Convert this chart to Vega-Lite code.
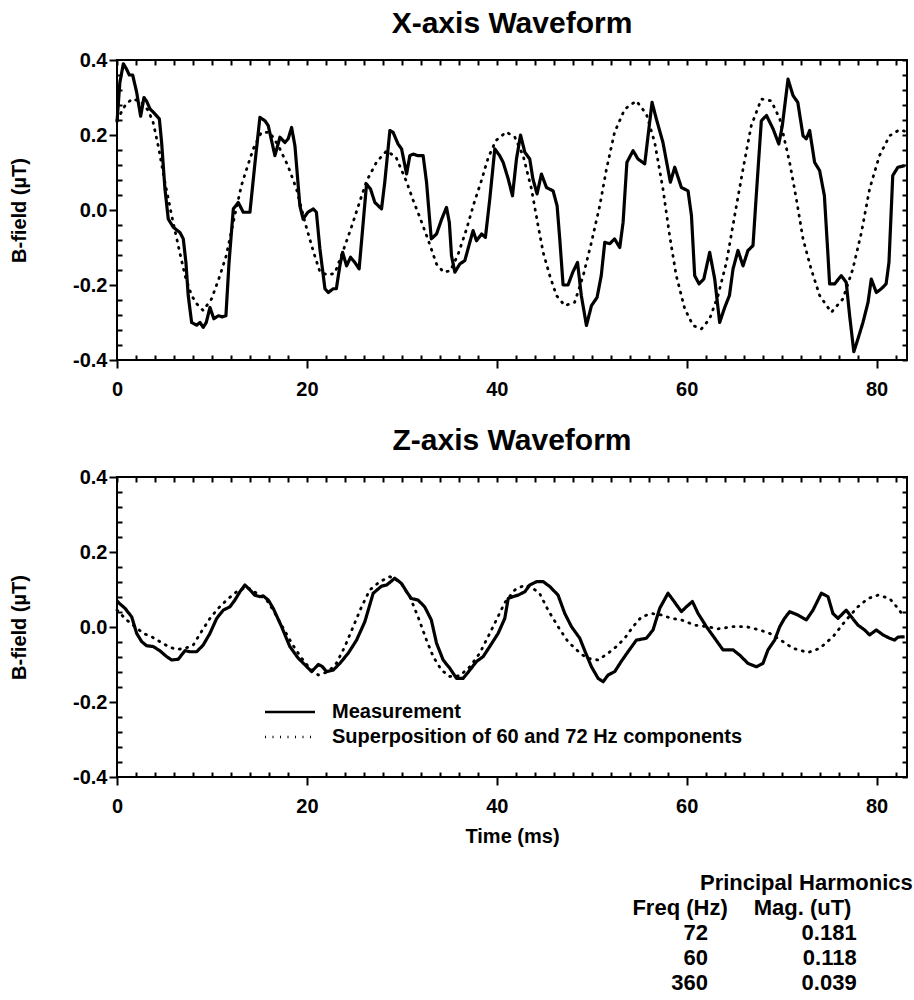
{
  "$schema": "https://vega.github.io/schema/vega-lite/v6.json",
  "background": "white",
  "autosize": {"type": "pad"},
  "padding": {"left": 8, "top": 8, "right": 0, "bottom": 0},
  "spacing": 117,
  "bounds": "flush",
  "config": {
    "font": "Liberation Sans",
    "view": {"stroke": "black", "strokeWidth": 2},
    "axis": {
      "labelFont": "Liberation Sans", "labelFontSize": 20, "labelFontWeight": "bold", "labelColor": "black",
      "titleFont": "Liberation Sans", "titleFontSize": 20, "titleFontWeight": "bold", "titleColor": "black",
      "tickColor": "black", "tickWidth": 2, "domain": false, "grid": false, "labelOverlap": false, "labelFlush": false, "labelBound": false
    },
    "title": {"font": "Liberation Sans", "fontSize": 30, "fontWeight": "bold", "color": "black", "offset": 11},
    "text": {"font": "Liberation Sans", "fontSize": 22, "fontWeight": "bold", "color": "black"}
  },
  "resolve": {"scale": {"strokeDash": "independent"}, "legend": {"strokeDash": "independent"}},
  "datasets": {
    "xm": [
      {"t":0.0,"v":0.234},{"t":0.3,"v":0.34},{"t":0.67,"v":0.39},{"t":1.0,"v":0.376},{"t":1.3,"v":0.36},{"t":1.65,"v":0.36},{"t":2.07,"v":0.314},{"t":2.49,"v":0.25},{"t":2.84,"v":0.30},{"t":3.12,"v":0.29},{"t":3.47,"v":0.27},{"t":4.0,"v":0.256},{"t":4.46,"v":0.243},{"t":4.7,"v":0.18},{"t":5.05,"v":0.056},{"t":5.4,"v":-0.024},{"t":5.93,"v":-0.046},{"t":6.63,"v":-0.06},{"t":6.98,"v":-0.077},{"t":7.26,"v":-0.14},{"t":7.5,"v":-0.228},{"t":7.86,"v":-0.30},{"t":8.39,"v":-0.307},{"t":8.74,"v":-0.30},{"t":9.08,"v":-0.313},{"t":9.4,"v":-0.30},{"t":9.79,"v":-0.26},{"t":10.2,"v":-0.29},{"t":10.67,"v":-0.282},{"t":11.1,"v":-0.285},{"t":11.47,"v":-0.282},{"t":11.8,"v":-0.14},{"t":12.25,"v":0.003},{"t":12.77,"v":0.02},{"t":13.3,"v":-0.006},{"t":14.0,"v":-0.006},{"t":14.5,"v":0.118},{"t":15.05,"v":0.247},{"t":15.58,"v":0.238},{"t":15.93,"v":0.225},{"t":16.63,"v":0.145},{"t":17.16,"v":0.194},{"t":17.68,"v":0.18},{"t":18.03,"v":0.19},{"t":18.39,"v":0.22},{"t":18.74,"v":0.171},{"t":19.26,"v":0.011},{"t":19.6,"v":-0.024},{"t":20.1,"v":-0.006},{"t":20.67,"v":0.003},{"t":21.0,"v":-0.006},{"t":21.37,"v":-0.104},{"t":21.9,"v":-0.21},{"t":22.25,"v":-0.22},{"t":22.77,"v":-0.21},{"t":23.1,"v":-0.21},{"t":23.47,"v":-0.149},{"t":23.76,"v":-0.113},{"t":24.18,"v":-0.149},{"t":24.6,"v":-0.126},{"t":25.05,"v":-0.14},{"t":25.5,"v":-0.157},{"t":25.93,"v":-0.033},{"t":26.28,"v":0.069},{"t":26.7,"v":0.056},{"t":27.16,"v":0.02},{"t":27.86,"v":0.003},{"t":28.2,"v":0.074},{"t":28.74,"v":0.212},{"t":29.08,"v":0.207},{"t":29.6,"v":0.176},{"t":29.97,"v":0.163},{"t":30.5,"v":0.096},{"t":30.84,"v":0.145},{"t":31.19,"v":0.149},{"t":31.7,"v":0.145},{"t":32.24,"v":0.145},{"t":32.6,"v":0.074},{"t":32.95,"v":-0.033},{"t":33.1,"v":-0.077},{"t":33.65,"v":-0.064},{"t":34.2,"v":-0.024},{"t":34.7,"v":0.007},{"t":35.0,"v":-0.033},{"t":35.23,"v":-0.122},{"t":35.58,"v":-0.166},{"t":36.1,"v":-0.144},{"t":36.63,"v":-0.135},{"t":37.16,"v":-0.086},{"t":37.5,"v":-0.055},{"t":37.86,"v":-0.082},{"t":38.4,"v":-0.064},{"t":38.8,"v":-0.073},{"t":39.26,"v":0.029},{"t":39.79,"v":0.163},{"t":40.3,"v":0.145},{"t":40.67,"v":0.127},{"t":41.2,"v":0.083},{"t":41.65,"v":0.038},{"t":42.07,"v":0.136},{"t":42.5,"v":0.2},{"t":42.95,"v":0.154},{"t":43.47,"v":0.136},{"t":43.8,"v":0.083},{"t":44.24,"v":0.043},{"t":44.7,"v":0.096},{"t":45.23,"v":0.06},{"t":45.93,"v":0.051},{"t":46.35,"v":0.011},{"t":46.63,"v":-0.077},{"t":46.98,"v":-0.2},{"t":47.5,"v":-0.2},{"t":48.0,"v":-0.166},{"t":48.5,"v":-0.14},{"t":48.9,"v":-0.228},{"t":49.44,"v":-0.308},{"t":49.97,"v":-0.255},{"t":50.56,"v":-0.233},{"t":51.0,"v":-0.175},{"t":51.37,"v":-0.086},{"t":51.9,"v":-0.09},{"t":52.4,"v":-0.077},{"t":52.95,"v":-0.1},{"t":53.3,"v":-0.033},{"t":53.7,"v":0.127},{"t":54.35,"v":0.158},{"t":54.87,"v":0.136},{"t":55.58,"v":0.123},{"t":55.93,"v":0.198},{"t":56.35,"v":0.287},{"t":56.8,"v":0.243},{"t":57.5,"v":0.18},{"t":58.28,"v":0.074},{"t":58.74,"v":0.114},{"t":59.44,"v":0.06},{"t":60.14,"v":0.051},{"t":60.5,"v":-0.015},{"t":60.84,"v":-0.175},{"t":61.3,"v":-0.197},{"t":61.8,"v":-0.184},{"t":62.42,"v":-0.113},{"t":62.95,"v":-0.184},{"t":63.47,"v":-0.3},{"t":64.0,"v":-0.26},{"t":64.5,"v":-0.228},{"t":64.88,"v":-0.157},{"t":65.4,"v":-0.108},{"t":65.93,"v":-0.149},{"t":66.45,"v":-0.108},{"t":66.98,"v":-0.095},{"t":67.3,"v":0.029},{"t":67.86,"v":0.238},{"t":68.4,"v":0.252},{"t":69.1,"v":0.216},{"t":69.7,"v":0.176},{"t":70.07,"v":0.225},{"t":70.67,"v":0.349},{"t":71.2,"v":0.305},{"t":71.7,"v":0.287},{"t":72.25,"v":0.198},{"t":72.6,"v":0.19},{"t":72.95,"v":0.212},{"t":73.47,"v":0.127},{"t":74.0,"v":0.105},{"t":74.5,"v":0.038},{"t":74.88,"v":-0.122},{"t":75.05,"v":-0.197},{"t":75.58,"v":-0.197},{"t":76.28,"v":-0.175},{"t":76.8,"v":-0.193},{"t":77.16,"v":-0.282},{"t":77.6,"v":-0.378},{"t":78.03,"v":-0.344},{"t":78.56,"v":-0.3},{"t":79.1,"v":-0.246},{"t":79.44,"v":-0.184},{"t":79.97,"v":-0.22},{"t":80.5,"v":-0.21},{"t":81.0,"v":-0.197},{"t":81.3,"v":-0.14},{"t":81.7,"v":0.092},{"t":82.24,"v":0.114},{"t":82.95,"v":0.118}
    ],
    "xs": [
      {"t":0.0,"v":0.24},{"t":0.84,"v":0.278},{"t":1.55,"v":0.296},{"t":2.5,"v":0.29},{"t":3.3,"v":0.265},{"t":3.8,"v":0.234},{"t":4.35,"v":0.17},{"t":5.05,"v":0.074},{"t":5.76,"v":-0.015},{"t":6.45,"v":-0.095},{"t":7.16,"v":-0.175},{"t":7.86,"v":-0.228},{"t":8.39,"v":-0.25},{"t":9.08,"v":-0.268},{"t":9.96,"v":-0.237},{"t":10.84,"v":-0.175},{"t":11.5,"v":-0.122},{"t":12.4,"v":-0.015},{"t":13.1,"v":0.065},{"t":13.65,"v":0.109},{"t":14.35,"v":0.163},{"t":15.2,"v":0.207},{"t":16.1,"v":0.207},{"t":17.0,"v":0.171},{"t":18.0,"v":0.118},{"t":18.9,"v":0.056},{"t":19.8,"v":-0.033},{"t":20.67,"v":-0.11},{"t":21.37,"v":-0.165},{"t":22.25,"v":-0.174},{"t":22.95,"v":-0.168},{"t":23.8,"v":-0.11},{"t":24.7,"v":-0.045},{"t":25.6,"v":0.025},{"t":26.3,"v":0.078},{"t":27.34,"v":0.128},{"t":28.4,"v":0.158},{"t":29.4,"v":0.14},{"t":30.5,"v":0.075},{"t":31.2,"v":0.025},{"t":31.9,"v":-0.02},{"t":32.8,"v":-0.082},{"t":33.65,"v":-0.144},{"t":34.4,"v":-0.166},{"t":35.1,"v":-0.162},{"t":35.9,"v":-0.12},{"t":36.8,"v":-0.052},{"t":37.6,"v":0.018},{"t":38.4,"v":0.08},{"t":39.1,"v":0.14},{"t":39.9,"v":0.185},{"t":41.0,"v":0.208},{"t":41.9,"v":0.194},{"t":42.77,"v":0.145},{"t":43.65,"v":0.056},{"t":44.35,"v":-0.042},{"t":44.88,"v":-0.113},{"t":45.58,"v":-0.175},{"t":46.28,"v":-0.228},{"t":47.16,"v":-0.255},{"t":48.2,"v":-0.246},{"t":49.1,"v":-0.175},{"t":49.97,"v":-0.086},{"t":50.84,"v":0.011},{"t":51.55,"v":0.109},{"t":52.4,"v":0.207},{"t":53.47,"v":0.269},{"t":54.7,"v":0.291},{"t":55.75,"v":0.256},{"t":56.63,"v":0.18},{"t":57.5,"v":0.056},{"t":58.2,"v":-0.068},{"t":58.9,"v":-0.175},{"t":59.8,"v":-0.264},{"t":60.67,"v":-0.308},{"t":61.55,"v":-0.317},{"t":62.42,"v":-0.29},{"t":63.3,"v":-0.228},{"t":64.18,"v":-0.14},{"t":65.05,"v":-0.015},{"t":65.93,"v":0.109},{"t":66.8,"v":0.225},{"t":67.86,"v":0.296},{"t":68.9,"v":0.291},{"t":69.8,"v":0.243},{"t":70.84,"v":0.127},{"t":71.55,"v":0.029},{"t":72.25,"v":-0.077},{"t":73.1,"v":-0.157},{"t":74.0,"v":-0.228},{"t":75.23,"v":-0.273},{"t":76.45,"v":-0.237},{"t":77.5,"v":-0.157},{"t":78.4,"v":-0.06},{"t":79.26,"v":0.056},{"t":80.3,"v":0.145},{"t":81.37,"v":0.198},{"t":82.4,"v":0.214},{"t":83.0,"v":0.21}
    ],
    "zm": [
      {"t":0.0,"v":0.07},{"t":0.25,"v":0.063},{"t":0.84,"v":0.05},{"t":1.55,"v":0.027},{"t":2.07,"v":-0.017},{"t":2.6,"v":-0.039},{"t":3.12,"v":-0.05},{"t":3.8,"v":-0.052},{"t":4.5,"v":-0.063},{"t":5.23,"v":-0.079},{"t":5.76,"v":-0.088},{"t":6.45,"v":-0.086},{"t":7.16,"v":-0.063},{"t":7.68,"v":-0.066},{"t":8.39,"v":-0.066},{"t":9.08,"v":-0.048},{"t":9.79,"v":-0.017},{"t":10.5,"v":0.023},{"t":11.19,"v":0.045},{"t":11.9,"v":0.054},{"t":12.42,"v":0.072},{"t":12.95,"v":0.094},{"t":13.47,"v":0.112},{"t":14.0,"v":0.099},{"t":14.5,"v":0.085},{"t":15.05,"v":0.081},{"t":15.4,"v":0.083},{"t":15.93,"v":0.072},{"t":16.45,"v":0.05},{"t":17.33,"v":0.001},{"t":18.2,"v":-0.052},{"t":19.08,"v":-0.083},{"t":19.8,"v":-0.101},{"t":20.5,"v":-0.119},{"t":21.2,"v":-0.1},{"t":21.6,"v":-0.105},{"t":22.07,"v":-0.119},{"t":22.77,"v":-0.115},{"t":23.47,"v":-0.097},{"t":24.35,"v":-0.07},{"t":25.23,"v":-0.035},{"t":26.1,"v":0.014},{"t":26.98,"v":0.09},{"t":27.86,"v":0.109},{"t":28.4,"v":0.112},{"t":29.26,"v":0.13},{"t":29.97,"v":0.116},{"t":30.5,"v":0.094},{"t":31.0,"v":0.076},{"t":31.7,"v":0.072},{"t":32.4,"v":0.054},{"t":33.1,"v":0.019},{"t":33.65,"v":-0.043},{"t":34.35,"v":-0.088},{"t":35.05,"v":-0.11},{"t":35.76,"v":-0.137},{"t":36.45,"v":-0.137},{"t":37.16,"v":-0.115},{"t":37.86,"v":-0.092},{"t":38.56,"v":-0.079},{"t":39.26,"v":-0.052},{"t":40.14,"v":-0.017},{"t":40.84,"v":0.023},{"t":41.2,"v":0.076},{"t":41.7,"v":0.081},{"t":42.24,"v":0.085},{"t":42.95,"v":0.094},{"t":43.47,"v":0.112},{"t":44.2,"v":0.121},{"t":44.88,"v":0.121},{"t":45.58,"v":0.108},{"t":46.45,"v":0.085},{"t":47.16,"v":0.036},{"t":47.86,"v":0.001},{"t":48.74,"v":-0.03},{"t":49.37,"v":-0.07},{"t":49.97,"v":-0.106},{"t":50.67,"v":-0.137},{"t":51.2,"v":-0.146},{"t":51.72,"v":-0.128},{"t":52.42,"v":-0.119},{"t":53.1,"v":-0.092},{"t":53.82,"v":-0.066},{"t":54.7,"v":-0.035},{"t":55.75,"v":-0.03},{"t":56.45,"v":-0.008},{"t":57.16,"v":0.05},{"t":58.03,"v":0.09},{"t":58.56,"v":0.072},{"t":59.44,"v":0.041},{"t":59.97,"v":0.054},{"t":60.6,"v":0.068},{"t":61.2,"v":0.036},{"t":62.07,"v":0.001},{"t":62.95,"v":-0.03},{"t":63.82,"v":-0.061},{"t":64.88,"v":-0.061},{"t":65.58,"v":-0.075},{"t":66.45,"v":-0.097},{"t":67.34,"v":-0.106},{"t":68.03,"v":-0.097},{"t":68.56,"v":-0.061},{"t":69.26,"v":-0.035},{"t":69.8,"v":0.001},{"t":70.3,"v":0.023},{"t":70.84,"v":0.041},{"t":71.7,"v":0.032},{"t":72.6,"v":0.019},{"t":73.3,"v":0.045},{"t":74.18,"v":0.09},{"t":74.88,"v":0.081},{"t":75.4,"v":0.036},{"t":75.93,"v":0.023},{"t":76.8,"v":0.045},{"t":77.34,"v":0.027},{"t":78.03,"v":0.005},{"t":78.74,"v":-0.008},{"t":79.26,"v":-0.021},{"t":79.97,"v":-0.008},{"t":80.67,"v":-0.021},{"t":81.37,"v":-0.03},{"t":81.9,"v":-0.035},{"t":82.24,"v":-0.027},{"t":82.95,"v":-0.026}
    ],
    "zs": [
      {"t":0.0,"v":0.045},{"t":1.0,"v":0.019},{"t":1.9,"v":0.001},{"t":2.77,"v":-0.017},{"t":3.65,"v":-0.026},{"t":4.5,"v":-0.039},{"t":5.4,"v":-0.052},{"t":6.28,"v":-0.06},{"t":7.16,"v":-0.057},{"t":8.03,"v":-0.048},{"t":8.9,"v":-0.012},{"t":9.79,"v":0.023},{"t":10.67,"v":0.05},{"t":11.55,"v":0.072},{"t":12.6,"v":0.094},{"t":13.65,"v":0.107},{"t":14.7,"v":0.09},{"t":15.76,"v":0.072},{"t":16.45,"v":0.045},{"t":17.33,"v":0.005},{"t":18.39,"v":-0.043},{"t":19.44,"v":-0.083},{"t":20.3,"v":-0.11},{"t":21.2,"v":-0.128},{"t":22.25,"v":-0.119},{"t":23.1,"v":-0.097},{"t":24.0,"v":-0.052},{"t":24.88,"v":0.001},{"t":25.76,"v":0.054},{"t":26.63,"v":0.099},{"t":27.68,"v":0.121},{"t":28.74,"v":0.134},{"t":29.8,"v":0.121},{"t":30.84,"v":0.081},{"t":31.7,"v":0.027},{"t":32.6,"v":-0.035},{"t":33.3,"v":-0.079},{"t":34.18,"v":-0.115},{"t":35.05,"v":-0.132},{"t":36.1,"v":-0.13},{"t":37.16,"v":-0.106},{"t":38.2,"v":-0.07},{"t":39.08,"v":-0.026},{"t":39.96,"v":0.019},{"t":40.84,"v":0.065},{"t":41.9,"v":0.099},{"t":42.95,"v":0.112},{"t":43.7,"v":0.105},{"t":44.5,"v":0.09},{"t":45.4,"v":0.045},{"t":46.45,"v":0.001},{"t":47.5,"v":-0.039},{"t":48.4,"v":-0.061},{"t":49.44,"v":-0.083},{"t":50.67,"v":-0.088},{"t":51.72,"v":-0.07},{"t":52.6,"v":-0.052},{"t":53.47,"v":-0.03},{"t":54.35,"v":0.001},{"t":55.23,"v":0.027},{"t":56.28,"v":0.036},{"t":57.34,"v":0.032},{"t":58.4,"v":0.023},{"t":59.44,"v":0.019},{"t":60.84,"v":0.005},{"t":62.07,"v":0.001},{"t":63.3,"v":-0.005},{"t":64.88,"v":0.001},{"t":66.28,"v":0.001},{"t":67.7,"v":-0.008},{"t":68.74,"v":-0.017},{"t":70.14,"v":-0.039},{"t":71.2,"v":-0.057},{"t":72.77,"v":-0.068},{"t":74.0,"v":-0.057},{"t":75.4,"v":-0.026},{"t":76.8,"v":0.019},{"t":78.03,"v":0.054},{"t":79.1,"v":0.076},{"t":80.14,"v":0.085},{"t":81.37,"v":0.076},{"t":82.24,"v":0.05},{"t":82.9,"v":0.027}
    ],
    "harm": [
      {"row": 2, "freq": "72", "mag": "0.181"},
      {"row": 3, "freq": "60", "mag": "0.118"},
      {"row": 4, "freq": "360", "mag": "0.039"}
    ]
  },
  "vconcat": [
    {
      "width": 790, "height": 300,
      "title": "X-axis Waveform",
      "resolve": {"axis": {"x": "independent", "y": "independent"}},
      "layer": [
        {
          "data": {"name": "xm"},
          "mark": {"type": "line", "color": "black", "strokeWidth": 3.2, "strokeJoin": "round"},
          "encoding": {
            "x": {"field": "t", "type": "quantitative", "scale": {"domain": [0, 83.2], "nice": false, "zero": false},
              "axis": {"orient": "bottom", "title": null, "values": [0,2,4,6,8,10,12,14,16,18,20,22,24,26,28,30,32,34,36,38,40,42,44,46,48,50,52,54,56,58,60,62,64,66,68,70,72,74,76,78,80,82],
                "tickSize": {"condition": {"test": "datum.value % 20 === 0", "value": 8}, "value": -5},
                "labelExpr": "datum.value % 20 === 0 ? datum.label : ''", "labelPadding": 11}},
            "y": {"field": "v", "type": "quantitative", "scale": {"domain": [-0.4, 0.4], "nice": false, "zero": false},
              "axis": {"orient": "left", "title": "B-field (µT)", "titlePadding": 43,
                "values": [-0.4,-0.36,-0.32,-0.28,-0.24,-0.2,-0.16,-0.12,-0.08,-0.04,0,0.04,0.08,0.12,0.16,0.2,0.24,0.28,0.32,0.36,0.4],
                "tickSize": {"condition": {"test": "abs(datum.value*5 - round(datum.value*5)) < 0.001", "value": 8}, "value": -5},
                "labelExpr": "abs(datum.value*5 - round(datum.value*5)) < 0.001 ? replace(format(datum.value, '.1f'), '\u2212', '-') : ''", "labelPadding": 2}},
            "strokeDash": {"datum": "Measurement", "scale": {"domain": ["Measurement", "Superposition of 60 and 72 Hz components"], "range": [[1, 0], [1, 6.5]]}, "legend": null}
          }
        },
        {
          "data": {"name": "xs"},
          "mark": {"type": "line", "color": "black", "strokeWidth": 2.8, "strokeCap": "round"},
          "encoding": {
            "x": {"field": "t", "type": "quantitative", "scale": {"domain": [0, 83.2], "nice": false, "zero": false},
              "axis": {"orient": "top", "title": null, "labels": false, "tickSize": -5, "values": [0,2,4,6,8,10,12,14,16,18,20,22,24,26,28,30,32,34,36,38,40,42,44,46,48,50,52,54,56,58,60,62,64,66,68,70,72,74,76,78,80,82]}},
            "y": {"field": "v", "type": "quantitative", "scale": {"domain": [-0.4, 0.4], "nice": false, "zero": false},
              "axis": {"orient": "right", "title": null, "labels": false, "tickSize": -5, "values": [-0.4,-0.36,-0.32,-0.28,-0.24,-0.2,-0.16,-0.12,-0.08,-0.04,0,0.04,0.08,0.12,0.16,0.2,0.24,0.28,0.32,0.36,0.4]}},
            "strokeDash": {"datum": "Superposition of 60 and 72 Hz components", "legend": null}
          }
        }
      ]
    },
    {
      "width": 790, "height": 300,
      "title": "Z-axis Waveform",
      "resolve": {"axis": {"x": "independent", "y": "independent"}},
      "layer": [
        {
          "data": {"name": "zm"},
          "mark": {"type": "line", "color": "black", "strokeWidth": 3.2, "strokeJoin": "round"},
          "encoding": {
            "x": {"field": "t", "type": "quantitative", "scale": {"domain": [0, 83.2], "nice": false, "zero": false},
              "axis": {"orient": "bottom", "title": "Time (ms)", "titlePadding": 10, "values": [0,2,4,6,8,10,12,14,16,18,20,22,24,26,28,30,32,34,36,38,40,42,44,46,48,50,52,54,56,58,60,62,64,66,68,70,72,74,76,78,80,82],
                "tickSize": {"condition": {"test": "datum.value % 20 === 0", "value": 8}, "value": -5},
                "labelExpr": "datum.value % 20 === 0 ? datum.label : ''", "labelPadding": 11}},
            "y": {"field": "v", "type": "quantitative", "scale": {"domain": [-0.4, 0.4], "nice": false, "zero": false},
              "axis": {"orient": "left", "title": "B-field (µT)", "titlePadding": 43,
                "values": [-0.4,-0.36,-0.32,-0.28,-0.24,-0.2,-0.16,-0.12,-0.08,-0.04,0,0.04,0.08,0.12,0.16,0.2,0.24,0.28,0.32,0.36,0.4],
                "tickSize": {"condition": {"test": "abs(datum.value*5 - round(datum.value*5)) < 0.001", "value": 8}, "value": -5},
                "labelExpr": "abs(datum.value*5 - round(datum.value*5)) < 0.001 ? replace(format(datum.value, '.1f'), '\u2212', '-') : ''", "labelPadding": 2}},
            "strokeDash": {"datum": "Measurement", "scale": {"domain": ["Measurement", "Superposition of 60 and 72 Hz components"], "range": [[1, 0], [1, 6.5]]},
              "legend": {"orient": "none", "legendX": 163, "legendY": 225, "title": null, "padding": 0,
                "symbolType": "M-5,0H5", "symbolSize": 100, "symbolStrokeWidth": 2.5, "symbolStrokeColor": "black", "symbolFillColor": "transparent",
                "labelFont": "Liberation Sans", "labelFontSize": 20, "labelFontWeight": "bold", "labelColor": "black",
                "labelOffset": 32, "rowPadding": 5, "labelLimit": 800}}
          }
        },
        {
          "data": {"name": "zs"},
          "mark": {"type": "line", "color": "black", "strokeWidth": 2.8, "strokeCap": "round"},
          "encoding": {
            "x": {"field": "t", "type": "quantitative", "scale": {"domain": [0, 83.2], "nice": false, "zero": false},
              "axis": {"orient": "top", "title": null, "labels": false, "tickSize": -5, "values": [0,2,4,6,8,10,12,14,16,18,20,22,24,26,28,30,32,34,36,38,40,42,44,46,48,50,52,54,56,58,60,62,64,66,68,70,72,74,76,78,80,82]}},
            "y": {"field": "v", "type": "quantitative", "scale": {"domain": [-0.4, 0.4], "nice": false, "zero": false},
              "axis": {"orient": "right", "title": null, "labels": false, "tickSize": -5, "values": [-0.4,-0.36,-0.32,-0.28,-0.24,-0.2,-0.16,-0.12,-0.08,-0.04,0,0.04,0.08,0.12,0.16,0.2,0.24,0.28,0.32,0.36,0.4]}},
            "strokeDash": {"datum": "Superposition of 60 and 72 Hz components"}
          }
        }
      ]
    },
    {
      "width": 790, "height": 100,
      "view": {"stroke": null},
      "layer": [
        {
          "data": {"values": [{"label": "Principal Harmonics", "row": 0}]},
          "mark": {"type": "text", "align": "center", "baseline": "middle"},
          "encoding": {
            "x": {"datum": 72.6, "type": "quantitative", "scale": {"domain": [0, 83.2], "nice": false, "zero": false}, "axis": null},
            "y": {"field": "row", "type": "quantitative", "scale": {"domain": [0.45, 4.45], "reverse": true, "nice": false, "zero": false}, "axis": null},
            "text": {"field": "label"}
          }
        },
        {
          "data": {"values": [{"label": "Freq (Hz)", "row": 1}]},
          "mark": {"type": "text", "align": "center", "baseline": "middle"},
          "encoding": {
            "x": {"datum": 59.3, "type": "quantitative"},
            "y": {"field": "row", "type": "quantitative"},
            "text": {"field": "label"}
          }
        },
        {
          "data": {"values": [{"label": "Mag. (uT)", "row": 1}]},
          "mark": {"type": "text", "align": "center", "baseline": "middle"},
          "encoding": {
            "x": {"datum": 72.2, "type": "quantitative"},
            "y": {"field": "row", "type": "quantitative"},
            "text": {"field": "label"}
          }
        },
        {
          "data": {"name": "harm"},
          "mark": {"type": "text", "align": "right", "baseline": "middle"},
          "encoding": {
            "x": {"datum": 62.25, "type": "quantitative"},
            "y": {"field": "row", "type": "quantitative"},
            "text": {"field": "freq"}
          }
        },
        {
          "data": {"name": "harm"},
          "mark": {"type": "text", "align": "right", "baseline": "middle"},
          "encoding": {
            "x": {"datum": 77.9, "type": "quantitative"},
            "y": {"field": "row", "type": "quantitative"},
            "text": {"field": "mag"}
          }
        }
      ]
    }
  ]
}
